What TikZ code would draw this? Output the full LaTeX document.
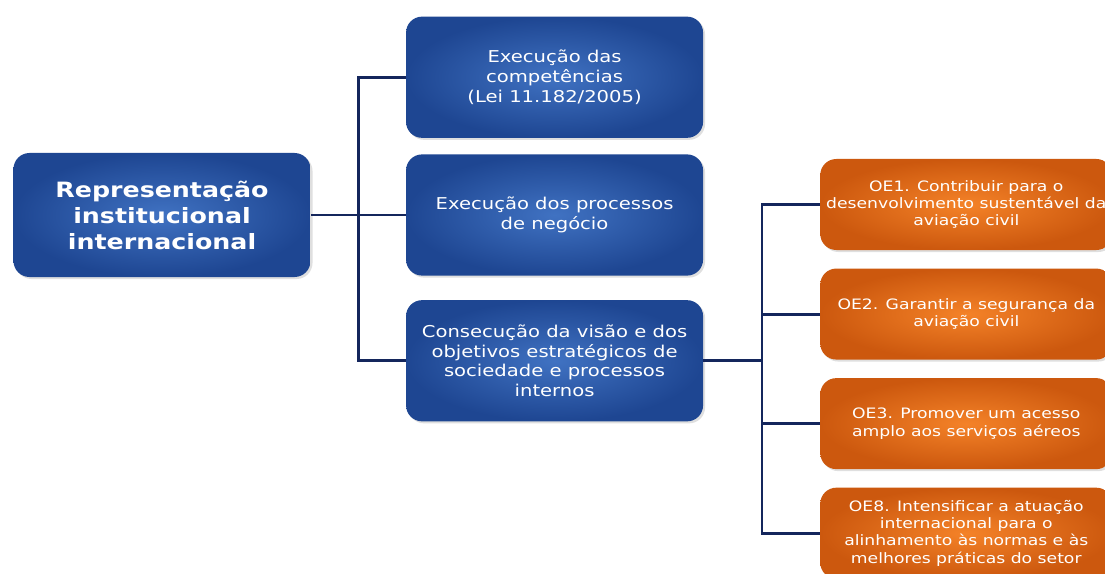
\documentclass[tikz,border=0pt]{standalone}
\usepackage{fontspec}
\setmainfont{DejaVu Sans}[FakeStretch=1.2]
\usetikzlibrary{positioning, shadows}

\definecolor{navyline}{RGB}{20,38,92}
\definecolor{blueinner}{RGB}{64,114,194}
\definecolor{blueouter}{RGB}{30,70,146}
\definecolor{orangeinner}{RGB}{244,130,40}
\definecolor{orangeouter}{RGB}{204,88,14}

\tikzset{
  bluebox/.style={rounded corners=0.4cm, shading=radial, inner color=blueinner,
    outer color=blueouter, text=white, align=center, inner sep=2pt,
    minimum width=7.425cm, minimum height=3.03cm,
    drop shadow={opacity=0.25, shadow xshift=0.05cm, shadow yshift=-0.05cm},
    font=\fontsize{11.6}{14.2}\selectfont},
  rootbox/.style={bluebox, minimum height=3.1cm,
    font=\fontsize{15}{18.5}\selectfont\bfseries},
  orangebox/.style={rounded corners=0.4cm, shading=radial, inner color=orangeinner,
    outer color=orangeouter, text=white, align=center, inner sep=2pt,
    minimum width=7.3cm, minimum height=2.275cm,
    drop shadow={opacity=0.25, shadow xshift=0.05cm, shadow yshift=-0.05cm},
    font=\fontsize{10.2}{12.4}\selectfont},
  link/.style={draw=navyline, line width=2.1pt}
}

\begin{document}
\begin{tikzpicture}
      \fill[white] (0,0) rectangle (27.625,-14.35);
      \useasboundingbox (0,0) rectangle (27.625,-14.35);

      % left side
      \node[rootbox] (root) at (4.05,-5.375) {Representação\\institucional\\internacional};

      \node[bluebox, right=2.375cm of root] (proc) {Execução dos processos\\de negócio};
      \node[bluebox, above=0.4cm of proc] (comp) {Execução das\\competências\\(Lei 11.182/2005)};
      \node[bluebox, below=0.6cm of proc] (visao) {Consecução da visão e dos\\objetivos estratégicos de\\sociedade e processos\\internos};

      \draw[link] (root.east)--(proc.west);
      \draw[link] (comp.west)--++(-1.175,0) |- (visao.west);

      % objetivos estrategicos
      \node[orangebox, anchor=west] (oe1) at (20.5,-5.1125) {OE1. Contribuir para o\\desenvolvimento sustentável da\\aviação civil};
      \node[orangebox, below=0.45cm of oe1] (oe2) {OE2. Garantir a segurança da\\aviação civil};
      \node[orangebox, below=0.45cm of oe2] (oe3) {OE3. Promover um acesso\\amplo aos serviços aéreos};
      \node[orangebox, below=0.45cm of oe3] (oe8) {OE8. Intensificar a atuação\\internacional para o\\alinhamento às normas e às\\melhores práticas do setor};

      \draw[link] (visao.east)--++(1.5,0);
      \draw[link] (oe1.west)--++(-1.45,0) |- (oe8.west);
      \draw[link] (oe2.west)--++(-1.45,0);
      \draw[link] (oe3.west)--++(-1.45,0);
\end{tikzpicture}
\end{document}
